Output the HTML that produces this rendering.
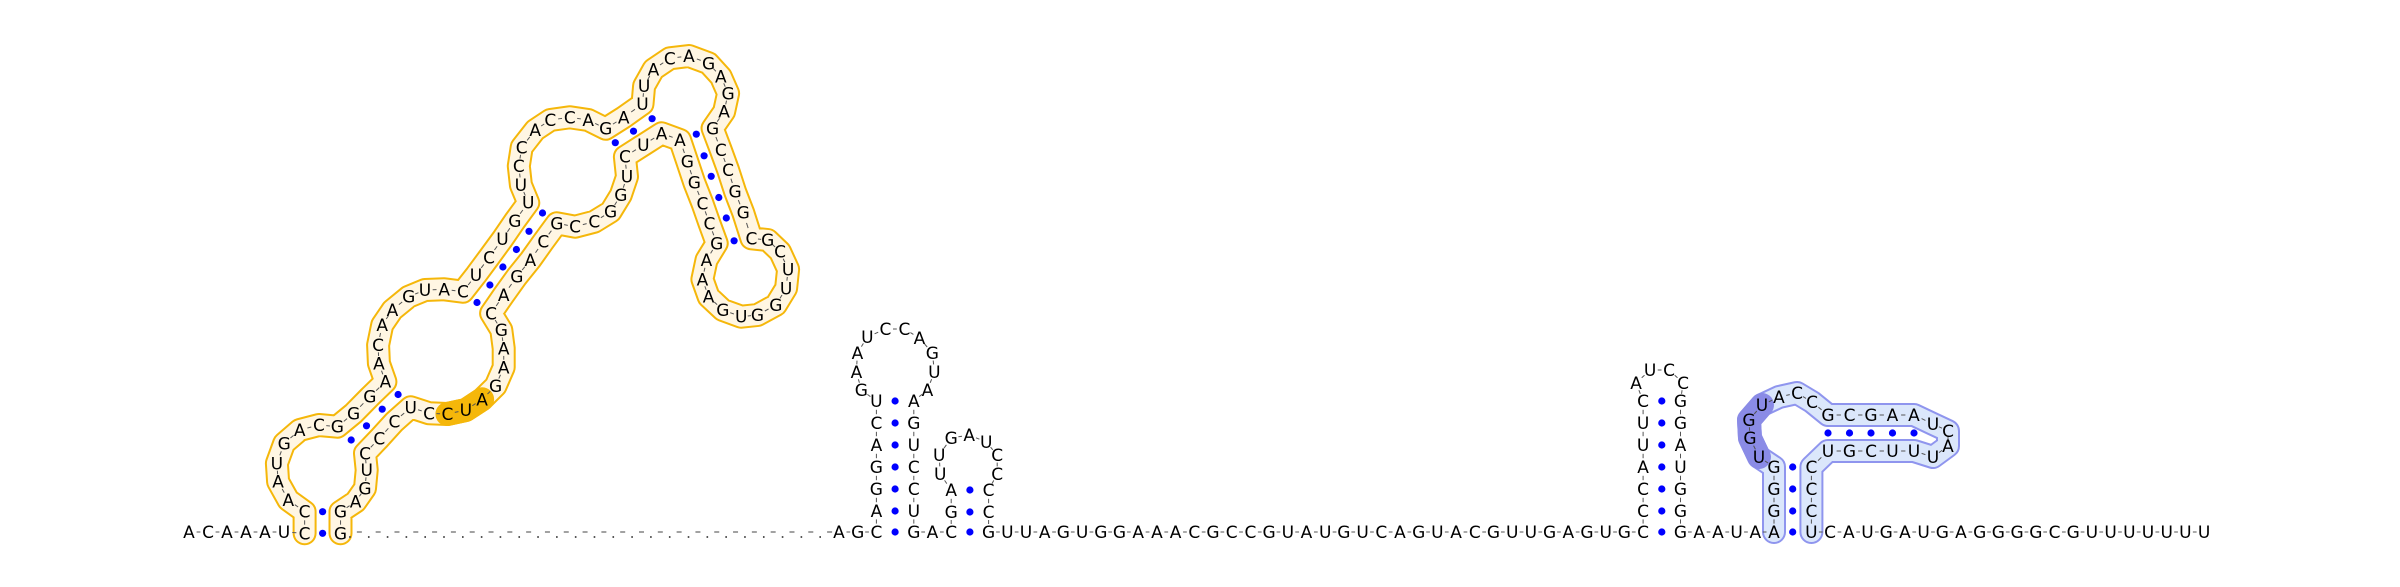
<!DOCTYPE html>
<html><head><meta charset="utf-8">
<style>
html,body{margin:0;padding:0;background:#fff;}
svg{display:block;}
text{font-family:"DejaVu Sans","Liberation Sans",sans-serif;font-size:17px;fill:#000;}
</style></head>
<body>
<svg id="rna" width="2400" height="587" viewBox="0 0 2400 587" xmlns="http://www.w3.org/2000/svg">
<g id="outlines"></g>
<g id="links"></g>
<g id="pairs"></g>
<g id="bases"></g>
</svg>
<script>
const NS='http://www.w3.org/2000/svg';
const s1Seq="CCAAUGACGG"+"GAACAAGUAC"+"UCUGUUCCAC"+"CAGAUUACAG"+"AGAGCCGGCG"+"CUUGGUGAAA"+"GCCGGAAUCU"+"GGCCGCAGAC"+"GAAGAUCCUC"+"CCUGAGG";
const s1Pts=[[330,1510],[330,1445],[290,1410],[265,1355],[262,1300],[280,1240],[318,1200],[365,1185],[410,1190],[450,1150],[490,1100],[528,1055],[512,1000],[510,945],[520,885],[545,840],[585,800],[625,780],[672,778],[718,785],[750,735],[782,682],[815,627],[845,573],[878,518],[860,465],[855,408],[862,352],[895,300],[932,270],[980,262],[1025,270],[1068,296],[1112,262],[1158,222],[1162,168],[1185,118],[1225,85],[1272,78],[1320,100],[1350,140],[1368,190],[1358,245],[1330,295],[1350,360],[1368,420],[1385,485],[1405,548],[1425,625],[1465,630],[1495,665],[1515,718],[1510,775],[1485,825],[1440,855],[1400,860],[1355,840],[1320,800],[1305,748],[1315,690],[1340,640],[1322,580],[1305,520],[1285,458],[1268,395],[1250,330],[1205,310],[1160,345],[1115,380],[1120,440],[1105,495],[1080,545],[1040,575],[993,590],[948,580],[915,635],[883,690],[850,740],[818,795],[787,850],[812,900],[818,955],[818,1012],[798,1068],[765,1108],[725,1140],[680,1152],[635,1150],[590,1132],[550,1175],[513,1225],[478,1270],[482,1320],[478,1375],[455,1415],[418,1445],[418,1510]];
const s1Pairs=[[0,96],[1,95],[8,91],[9,90],[10,89],[11,88],[19,79],[20,78],[21,77],[22,76],[23,75],[24,74],[32,68],[33,67],[34,66],[43,65],[44,64],[45,63],[46,62],[47,61],[48,60]];
const s1Hi=[84,85,86];

const Y0=532, S=18.7, BX0=839;
function bx(k){return BX0+k*S;}
function z1(p){return [170+p[0]*0.408, 30+p[1]/3];}

const nts=[];
function add(c,x,y){nts.push({c:c,x:x,y:y});return nts.length-1;}
const bpairs=[];
const lead="ACAAAU";
for(let i=0;i<lead.length;i++) add(lead[i],189+i*19,Y0);
const s1Start=nts.length;
for(let i=0;i<s1Pts.length;i++){const p=z1(s1Pts[i]);add(s1Seq[i]||'N',p[0],p[1]);}
s1Pairs.forEach(pr=>bpairs.push([s1Start+pr[0],s1Start+pr[1]]));
const s1End=nts.length-1;
const rows=[511,489,467,445,423,401];
add('A',bx(0),Y0);add('G',bx(1),Y0);
let xL=bx(2),xR=bx(4);
const h2L=[];h2L.push(add('C',xL,Y0));
"AGGACU".split('').forEach((c,i)=>h2L.push(add(c,xL,rows[i])));
const h2loop="GAAUCCAGUA", h2off=[[-15,390],[-20,372],[-19,353],[-9,337],[9,329],[28,329],[43,338],[56,353],[58,372],[51,390]];
for(let i=0;i<10;i++) add(h2loop[i],xL+h2off[i][0],h2off[i][1]);
const h2R=[];"AGUCCU".split('').forEach((c,i)=>h2R.push(add(c,xR,rows[5-i])));
h2R.push(add('G',xR,Y0));
h2R.reverse();for(let i=0;i<7;i++)bpairs.push([h2L[i],h2R[i]]);
add('A',bx(5),Y0);
xL=bx(6);xR=bx(8);
const h3L=[add('C',xL,Y0),add('G',xL,512),add('A',xL,490)];
const h3loop="UUGAUCC",h3off=[[-11,474],[-12,455],[0,438],[18,435],[35,442],[46,455],[46,474]];
for(let i=0;i<7;i++)add(h3loop[i],xL+h3off[i][0],h3off[i][1]);
const h3R=[add('C',xR,490),add('C',xR,512),add('G',xR,Y0)];
bpairs.push([h3L[0],h3R[2]],[h3L[1],h3R[1]],[h3L[2],h3R[0]]);
const midSeq="UUAGUGGAAACGCCGUAUGUCAGUACGUUGAGUG";
for(let i=0;i<midSeq.length;i++)add(midSeq[i],bx(9+i),Y0);
xL=bx(43);xR=bx(45);
const h4L=[add('C',xL,Y0)];"CCAUUC".split('').forEach((c,i)=>h4L.push(add(c,xL,rows[i])));
const h4loop="AUCC",h4off=[[-7,383],[7,370],[26,370],[40,383]];
for(let i=0;i<4;i++)add(h4loop[i],xL+h4off[i][0],h4off[i][1]);
const h4R=[];"GGAUGG".split('').forEach((c,i)=>h4R.push(add(c,xR,rows[5-i])));
h4R.push(add('G',xR,Y0));h4R.reverse();
for(let i=0;i<7;i++)bpairs.push([h4L[i],h4R[i]]);
"AAUA".split('').forEach((c,i)=>add(c,bx(46+i),Y0));
xL=bx(50);xR=bx(52);
const pStart=nts.length;
const pL=[add('A',xL,Y0),add('G',xL,511),add('G',xL,489),add('G',xL,467)];
const pHi=[];
const ploop="UGGUACC",ploff=[[-15,457],[-24,438],[-25,420],[-12,405],[5,397],[23,393],[38,402]];
for(let i=0;i<7;i++){const k=add(ploop[i],xL+ploff[i][0],ploff[i][1]);if(i<4)pHi.push(k);}
const topRow=[];"GCGAA".split('').forEach((c,i)=>topRow.push(add(c,xL+54+i*21.5,415)));
add('U',xL+159,424);add('C',xL+174,431);add('A',xL+174,446);add('U',xL+159,457);
const botRow=[];"UUCGU".split('').forEach((c,i)=>botRow.push(add(c,xL+140-i*21.5,451)));
const pR=[add('C',xR,467),add('C',xR,489),add('C',xR,511),add('U',xR,Y0)];
const pEnd=nts.length-1;
bpairs.push([pL[0],pR[3]],[pL[1],pR[2]],[pL[2],pR[1]],[pL[3],pR[0]]);
for(let i=0;i<5;i++)bpairs.push([topRow[i],botRow[4-i]]);
const tailSeq="CAUGAUGAGGGGCGUUUUUUU";
for(let i=0;i<tailSeq.length;i++)add(tailSeq[i],bx(53+i),Y0);

const gO=document.getElementById('outlines'),gL=document.getElementById('links'),gP=document.getElementById('pairs'),gB=document.getElementById('bases');
function poly(idx,w,col,parent,name){
  const el=document.createElementNS(NS,'polyline');
  el.setAttribute('points',idx.map(i=>nts[i].x.toFixed(1)+','+nts[i].y.toFixed(1)).join(' '));
  el.setAttribute('fill','none');el.setAttribute('stroke',col);el.setAttribute('stroke-width',w);
  el.setAttribute('stroke-linejoin','round');el.setAttribute('stroke-linecap','round');
  
  
  parent.appendChild(el);return el;
}
function idxRange(a,b){const r=[];for(let i=a;i<=b;i++)r.push(i);return r;}
const o1=idxRange(s1Start,s1End), o2=idxRange(pStart,pEnd);
poly(o1,24,'#f5b70a',gO,'orange-domain-border');
poly(o2,24,'#8f95ee',gO,'blue-domain-border');
poly(o1,20,'#fff6e3',gO,'orange-domain-fill');
poly(o2,20,'#dbe7fb',gO,'blue-domain-fill');
poly(s1Hi.map(i=>s1Start+i),24,'#f5b70a',gO,'orange-highlight');
poly(pHi,24,'#8a8be6',gO,'blue-highlight');
for(let i=0;i<nts.length-1;i++){
  const a=nts[i],b=nts[i+1];
  if(i===s1End){
    const n=Math.round((b.x-a.x)/S*2);
    for(let k=1;k<n;k++){
      const x=a.x+(b.x-a.x)*k/n;
      const el=document.createElementNS(NS,'line');
      if(k%2){el.setAttribute('x1',x-0.8);el.setAttribute('x2',x+0.8);el.setAttribute('y1',Y0+5);el.setAttribute('y2',Y0+5);el.setAttribute('stroke-width','1.8');}
      else{el.setAttribute('x1',x-2.5);el.setAttribute('x2',x+2.5);el.setAttribute('y1',Y0);el.setAttribute('y2',Y0);el.setAttribute('stroke-width','1');}
      el.setAttribute('stroke','#444');
      
      
      gL.appendChild(el);
    }
    continue;
  }
  const el=document.createElementNS(NS,'line');
  el.setAttribute('x1',a.x+(b.x-a.x)*0.4);el.setAttribute('y1',a.y+(b.y-a.y)*0.4);
  el.setAttribute('x2',a.x+(b.x-a.x)*0.6);el.setAttribute('y2',a.y+(b.y-a.y)*0.6);
  el.setAttribute('stroke','#555');el.setAttribute('stroke-width','1');
  
  
  gL.appendChild(el);
}
bpairs.forEach(pr=>{
  const a=nts[pr[0]],b=nts[pr[1]];
  const c=document.createElementNS(NS,'circle');
  c.setAttribute('cx',((a.x+b.x)/2).toFixed(1));c.setAttribute('cy',((a.y+b.y)/2).toFixed(1));
  c.setAttribute('r','3.6');c.setAttribute('fill','#0000ff');
  
  
  gP.appendChild(c);
});
nts.forEach(n=>{
  const t=document.createElementNS(NS,'text');
  t.setAttribute('x',n.x.toFixed(1));t.setAttribute('y',(n.y+6).toFixed(1));
  t.setAttribute('text-anchor','middle');
  t.textContent=n.c;
  
  
  gB.appendChild(t);
});
</script>
</body></html>
